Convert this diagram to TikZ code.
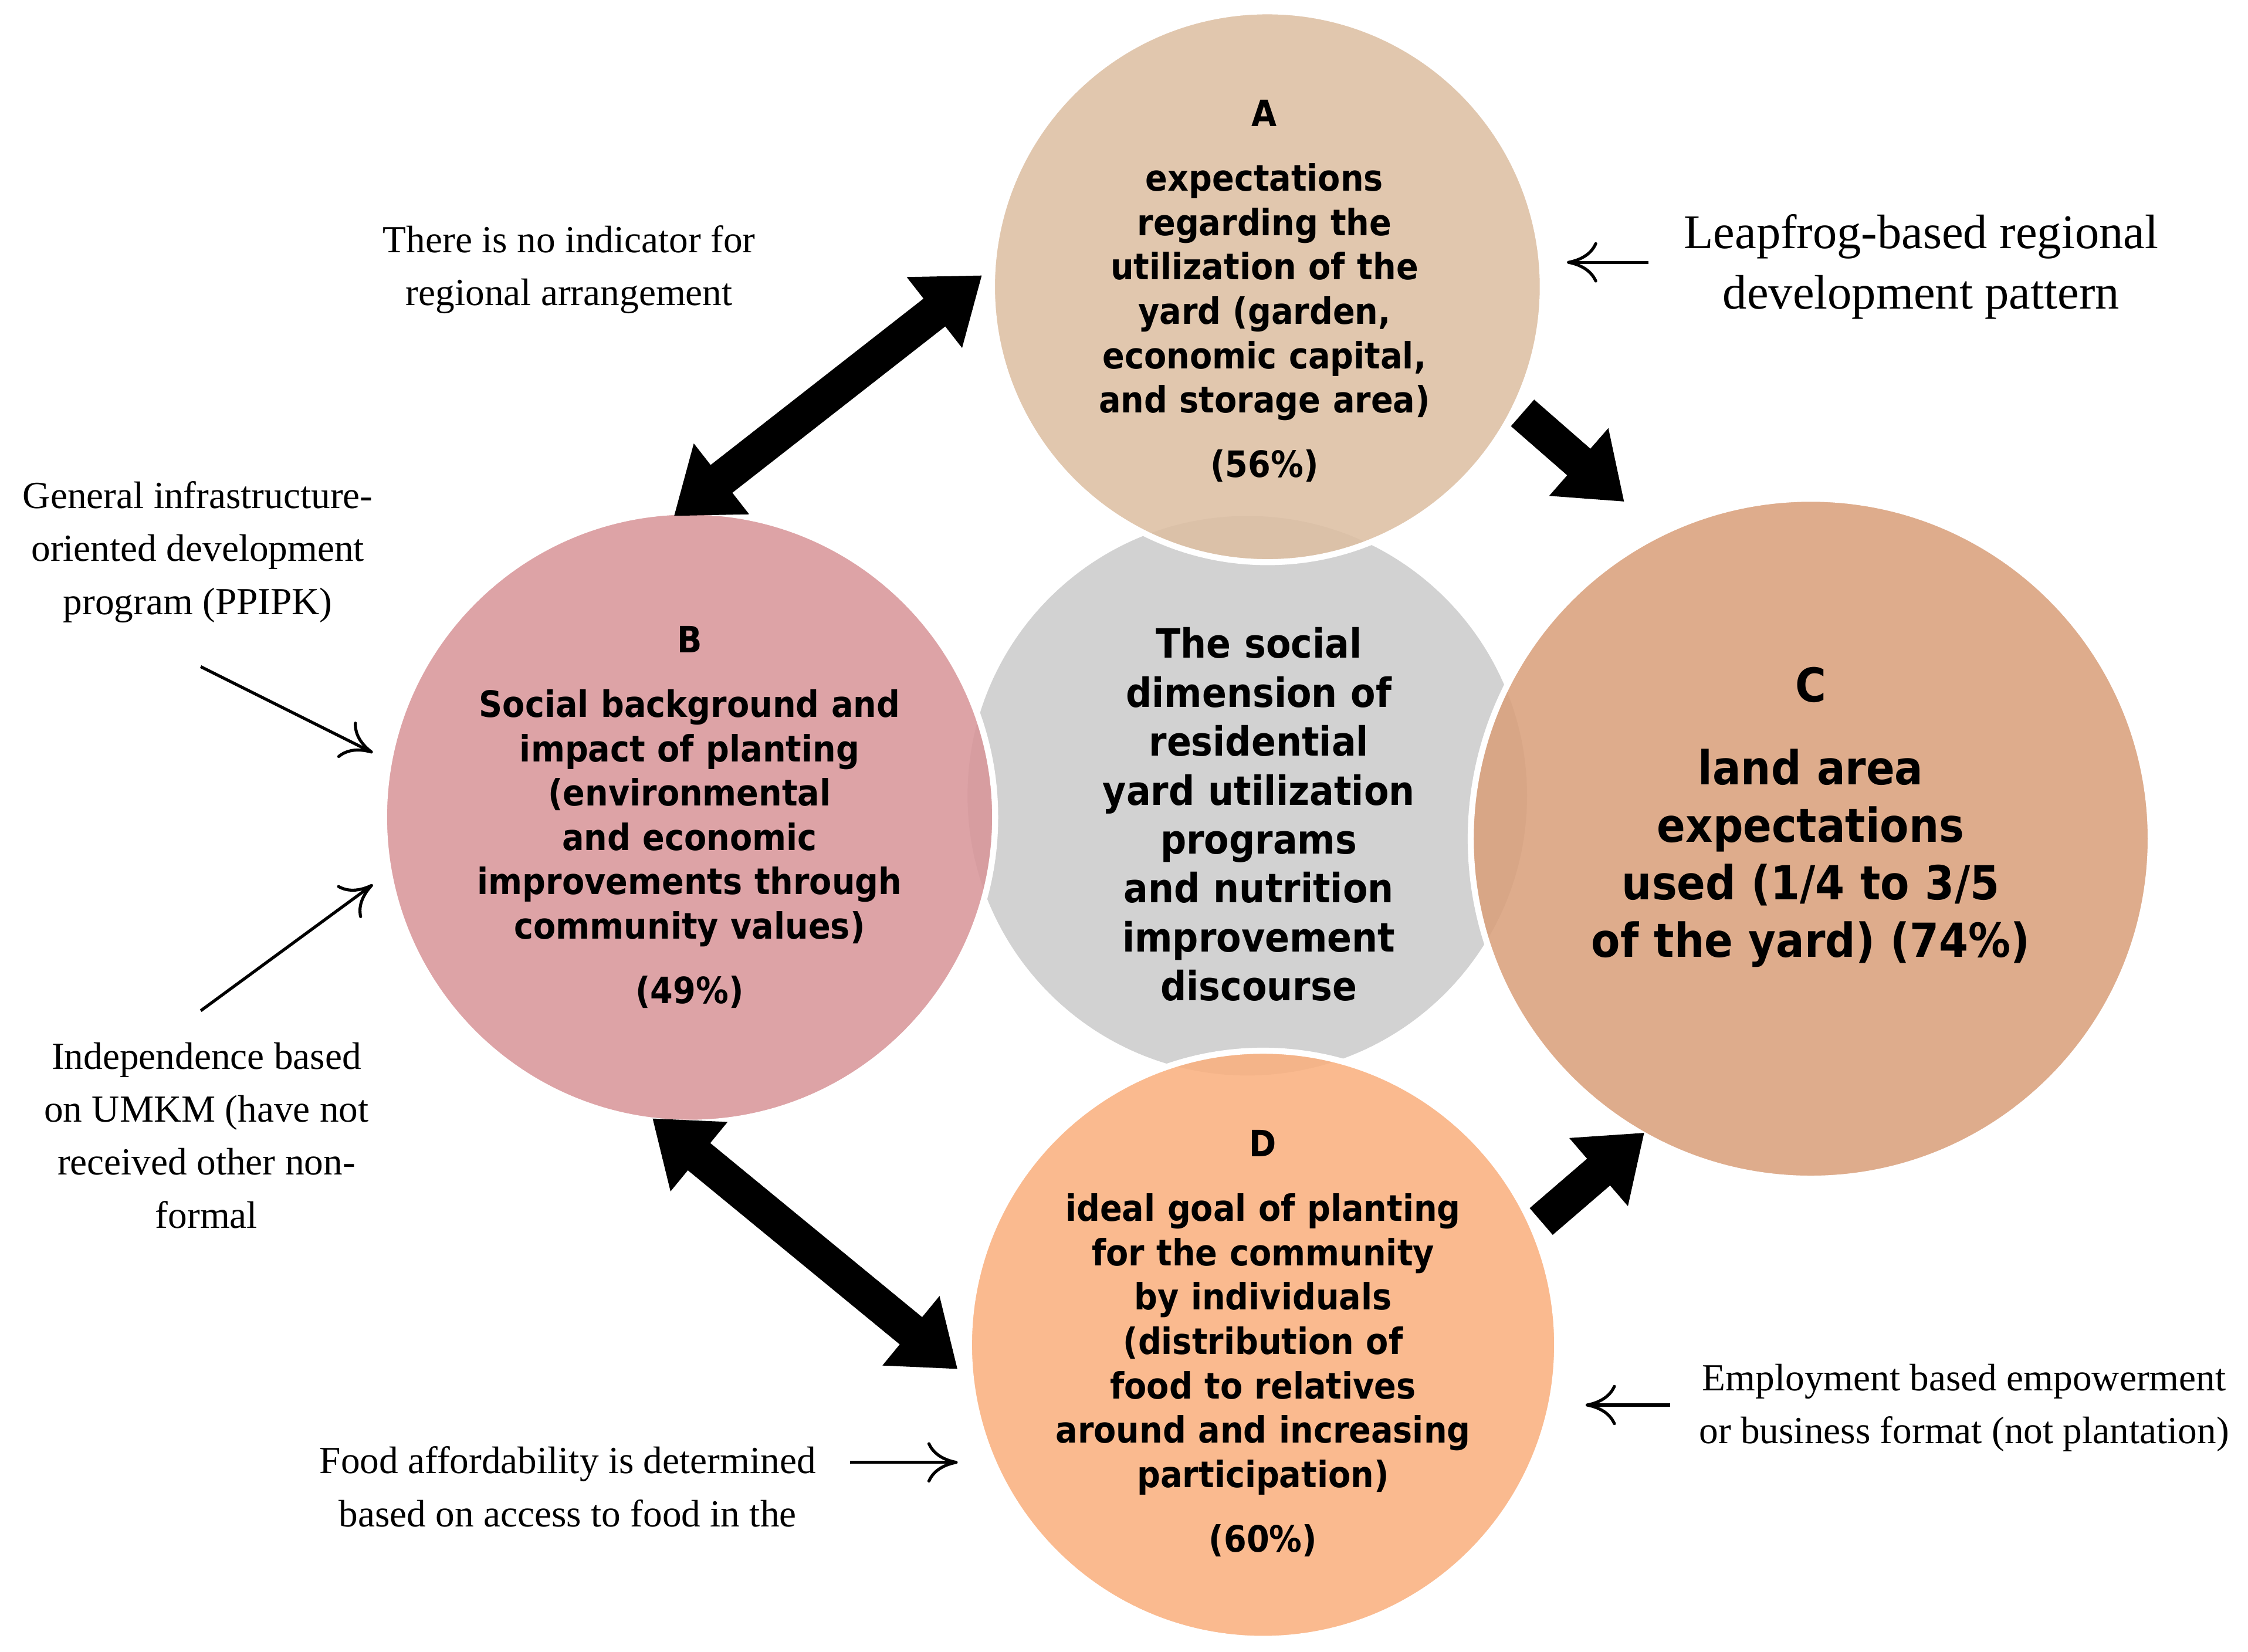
\documentclass[tikz,border=0pt]{standalone}
\usepackage{fontspec}
\setmainfont{Liberation Serif}
\newfontfamily\circfont{DejaVu Sans Condensed}
\usetikzlibrary{arrows.meta}
\definecolor{cA}{HTML}{DDBFA3}
\definecolor{cB}{HTML}{D8969A}
\definecolor{cC}{HTML}{D9A07C}
\definecolor{cD}{HTML}{F9B07F}
\definecolor{cG}{HTML}{D2D2D2}
\begin{document}
\hyphenpenalty=10000 \exhyphenpenalty=10000
\begin{tikzpicture}[x=0.01cm,y=-0.01cm,
  circ/.style={circle,draw=white,line width=1.2pt,fill opacity=0.88,text opacity=1,inner sep=0pt},
  ctext/.style={align=center,font=\circfont\bfseries\fontsize{7.2}{8.8}\selectfont},
  note/.style={align=center,font=\fontsize{7.6}{10.5}\selectfont},
  big/.style={line width=7pt,-{Triangle[width=17pt,length=12pt]}},
  bigd/.style={line width=7pt,{Triangle[width=17pt,length=12pt]}-{Triangle[width=17pt,length=12pt]}},
  thin/.style={line width=0.6pt,-{To[length=6pt,width=8pt]}}]
\useasboundingbox (0,0) rectangle (1568,1152);
\node[circle,fill=cG,minimum size=3.9cm] (G) at (870,555) {};
\node[circ,fill=cA,minimum size=3.84cm] (A) at (884,200) {};
\node[circ,fill=cB,minimum size=4.26cm] (B) at (481,570) {};
\node[circ,fill=cC,minimum size=4.74cm] (C) at (1263,585) {};
\node[circ,fill=cD,minimum size=4.1cm] (D) at (881,938) {};
\node[ctext,text width=2.95cm] (At) at (882,203) {A\\[4pt]expectations regarding the utilization of the yard (garden, economic capital, and storage area)\\[4pt](56\%)};
\node[ctext,text width=3.05cm] (Bt) at (481,570) {B\\[4pt]Social background and impact of planting (environmental and economic improvements through community values)\\[4pt](49\%)};
\node[ctext,text width=3.45cm,font=\circfont\bfseries\fontsize{9.3}{11.4}\selectfont] (Ct) at (1263,570) {C\\[5pt]land area expectations used (1/4 to 3/5 of the yard) (74\%)};
\node[ctext,text width=2.95cm] (Dt) at (881,937) {D\\[4pt]ideal goal of planting for the community by individuals (distribution of food to relatives around and increasing participation)\\[4pt](60\%)};
\node[ctext,text width=2.75cm,font=\circfont\bfseries\fontsize{8}{9.7}\selectfont] (Gt) at (878,568) {The social dimension of residential yard utilization programs and nutrition improvement discourse};
% thick arrows
\coordinate (a1) at (685,192); \coordinate (b1) at (470,360);
\coordinate (b2) at (455,780); \coordinate (d2) at (668,955);
\coordinate (a3) at (1062,288); \coordinate (c3) at (1133,350);
\coordinate (d4) at (1075,852); \coordinate (c4) at (1147,790);
\draw[bigd] (a1) -- (b1);
\draw[bigd] (b2) -- (d2);
\draw[big] (a3) -- (c3);
\draw[big] (d4) -- (c4);
% notes
\node[note] (n1) at (397,188) {There is no indicator for\\regional arrangement};
\node[note,font=\fontsize{9.6}{12}\selectfont] (n2) at (1340,186) {Leapfrog-based regional\\development pattern};
\node[note] (n3) at (138,385) {General infrastructure-\\oriented development\\program (PPIPK)};
\node[note] (n4) at (144,792) {Independence based\\on UMKM (have not\\received other non-\\formal};
\node[note] (n5) at (396,1037) {Food affordability is determined\\based on access to food in the};
\node[note] (n6) at (1370,982) {Employment based empowerment\\or business format (not plantation)};
\coordinate (t1s) at (1150,183); \coordinate (t1e) at (1093,183);
\coordinate (t2s) at (140,465); \coordinate (t2e) at (260,525);
\coordinate (t3s) at (140,705); \coordinate (t3e) at (260,617);
\coordinate (t4s) at (593,1020); \coordinate (t4e) at (668,1020);
\coordinate (t5s) at (1165,980); \coordinate (t5e) at (1106,980);
\draw[thin] (t1s) -- (t1e);
\draw[thin] (t2s) -- (t2e);
\draw[thin] (t3s) -- (t3e);
\draw[thin] (t4s) -- (t4e);
\draw[thin] (t5s) -- (t5e);
\end{tikzpicture}
\end{document}
